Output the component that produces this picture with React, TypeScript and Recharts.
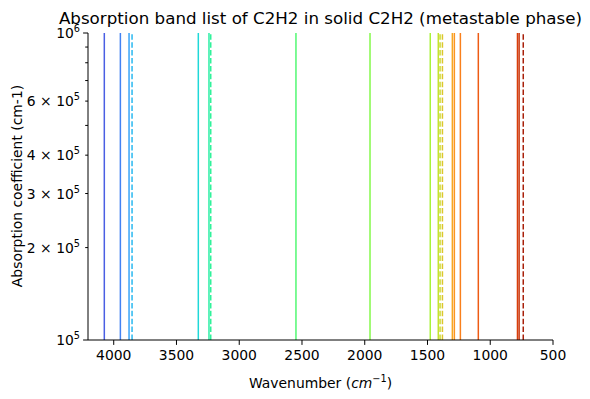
import { ComposedChart, XAxis, YAxis, ReferenceLine } from "recharts";

// band positions (cm-1), high to low wavenumber
const bandWavenumbers = [
  4075, 3947, 3878, 3854, 3326, 3241, 3227, 2548, 1958, 1478, 1414, 1400,
  1381, 1302, 1286, 1238, 1095, 783, 770, 737,
];

const xTicks = [4000, 3500, 3000, 2500, 2000, 1500, 1000, 500];
const yTicks = [1e5, 2e5, 3e5, 4e5, 5e5, 6e5, 7e5, 8e5, 9e5, 1e6];
const yLabelledTicks = [1e5, 2e5, 3e5, 4e5, 6e5, 1e6];

// styling (turbo-like colour ramp, dashed bands)
const lineColors = [
  "#4a5fe3", "#4282f2", "#38a4f8", "#2ab8f0", "#1fd8d8", "#2cefa5", "#30f29a",
  "#52f872", "#84f94a", "#a8f23a", "#c3e32f", "#cbdb2e", "#dcc72c", "#f7a622",
  "#fb9420", "#f9801c", "#ee5b14", "#d93e0a", "#c8330a", "#a8200a",
];
const dashedLines = [3854, 3227, 1400, 1381, 737];

const FONT = "'DejaVu Sans', sans-serif";
const TICK_FS = 13.9;
const LABEL_FS = 13.9;

const chartData = bandWavenumbers.map((wn) => ({ wn }));

function XTick(props: any) {
  const { x, y, payload } = props;
  return (
    <g>
      <line x1={x} x2={x} y1={y} y2={y + 4.9} stroke="#000" strokeWidth={1} />
      <text
        x={x}
        y={y + 20}
        textAnchor="middle"
        fontFamily={FONT}
        fontSize={TICK_FS}
        fill="#000"
      >
        {payload.value}
      </text>
    </g>
  );
}

function YTick(props: any) {
  const { x, y, payload } = props;
  const v: number = payload.value;
  const exp = Math.floor(Math.log10(v) + 1e-9);
  const mant = Math.round(v / Math.pow(10, exp));
  const major = mant === 1;
  const len = major ? 4.9 : 2.8;
  const labelled = yLabelledTicks.includes(v);
  return (
    <g>
      <line x1={x - len} x2={x} y1={y} y2={y} stroke="#000" strokeWidth={1} />
      {labelled && (
        <text
          x={x - 8}
          y={y + 5}
          textAnchor="end"
          fontFamily={FONT}
          fontSize={TICK_FS}
          fill="#000"
        >
          {major ? "10" : `${mant} × 10`}
          <tspan fontSize={TICK_FS * 0.7} dy={-6}>
            {exp}
          </tspan>
        </text>
      )}
    </g>
  );
}

export default function App() {
  return (
    <div
      style={{
        position: "absolute",
        left: 0,
        top: 0,
        width: 590,
        height: 399,
        background: "#fff",
        fontFamily: FONT,
      }}
    >
      <ComposedChart
        width={590}
        height={399}
        data={chartData}
        margin={{ top: 33, right: 37, bottom: 0, left: 0 }}
      >
        <XAxis
          dataKey="wn"
          type="number"
          domain={[500, 4205]}
          reversed
          ticks={xTicks}
          interval={0}
          height={59}
          tickSize={0}
          tickMargin={0}
          tickLine={false}
          tick={<XTick />}
          axisLine={{ stroke: "#000", strokeWidth: 1 }}
          allowDataOverflow
        />
        <XAxis
          xAxisId="top"
          dataKey="wn"
          type="number"
          orientation="top"
          domain={[500, 4205]}
          reversed
          height={0}
          tick={false}
          tickLine={false}
          axisLine={{ stroke: "#000", strokeWidth: 1 }}
          allowDataOverflow
        />
        <YAxis
          type="number"
          scale="log"
          domain={[1e5, 1e6]}
          ticks={yTicks}
          interval={0}
          width={88}
          tickSize={0}
          tickMargin={0}
          tickLine={false}
          tick={<YTick />}
          axisLine={{ stroke: "#000", strokeWidth: 1 }}
          allowDataOverflow
        />
        <YAxis
          yAxisId="right"
          orientation="right"
          type="number"
          scale="log"
          domain={[1e5, 1e6]}
          width={0}
          tick={false}
          tickLine={false}
          axisLine={{ stroke: "#000", strokeWidth: 1 }}
          allowDataOverflow
        />
        {bandWavenumbers.map((wn, i) => (
          <ReferenceLine
            key={wn}
            x={wn}
            stroke={lineColors[i]}
            strokeWidth={1.5}
            strokeDasharray={dashedLines.includes(wn) ? "5.5 2.4" : undefined}
          />
        ))}
      </ComposedChart>
      <div
        style={{
          position: "absolute",
          left: 0,
          width: 641,
          top: 8,
          textAlign: "center",
          fontSize: 16.7,
          lineHeight: "20px",
          whiteSpace: "nowrap",
        }}
      >
        Absorption band list of C2H2 in solid C2H2 (metastable phase)
      </div>
      <div
        style={{
          position: "absolute",
          left: 0,
          width: 641,
          top: 370,
          textAlign: "center",
          fontSize: LABEL_FS,
          lineHeight: "17px",
          whiteSpace: "nowrap",
        }}
      >
        Wavenumber (<i>cm</i>
        <sup style={{ fontSize: LABEL_FS * 0.7 }}>−1</sup>)
      </div>
      <div
        style={{
          position: "absolute",
          left: 17,
          top: 186,
          transform: "translate(-50%, -50%) rotate(-90deg)",
          fontSize: LABEL_FS,
          lineHeight: "17px",
          whiteSpace: "nowrap",
        }}
      >
        Absorption coefficient (cm-1)
      </div>
    </div>
  );
}
